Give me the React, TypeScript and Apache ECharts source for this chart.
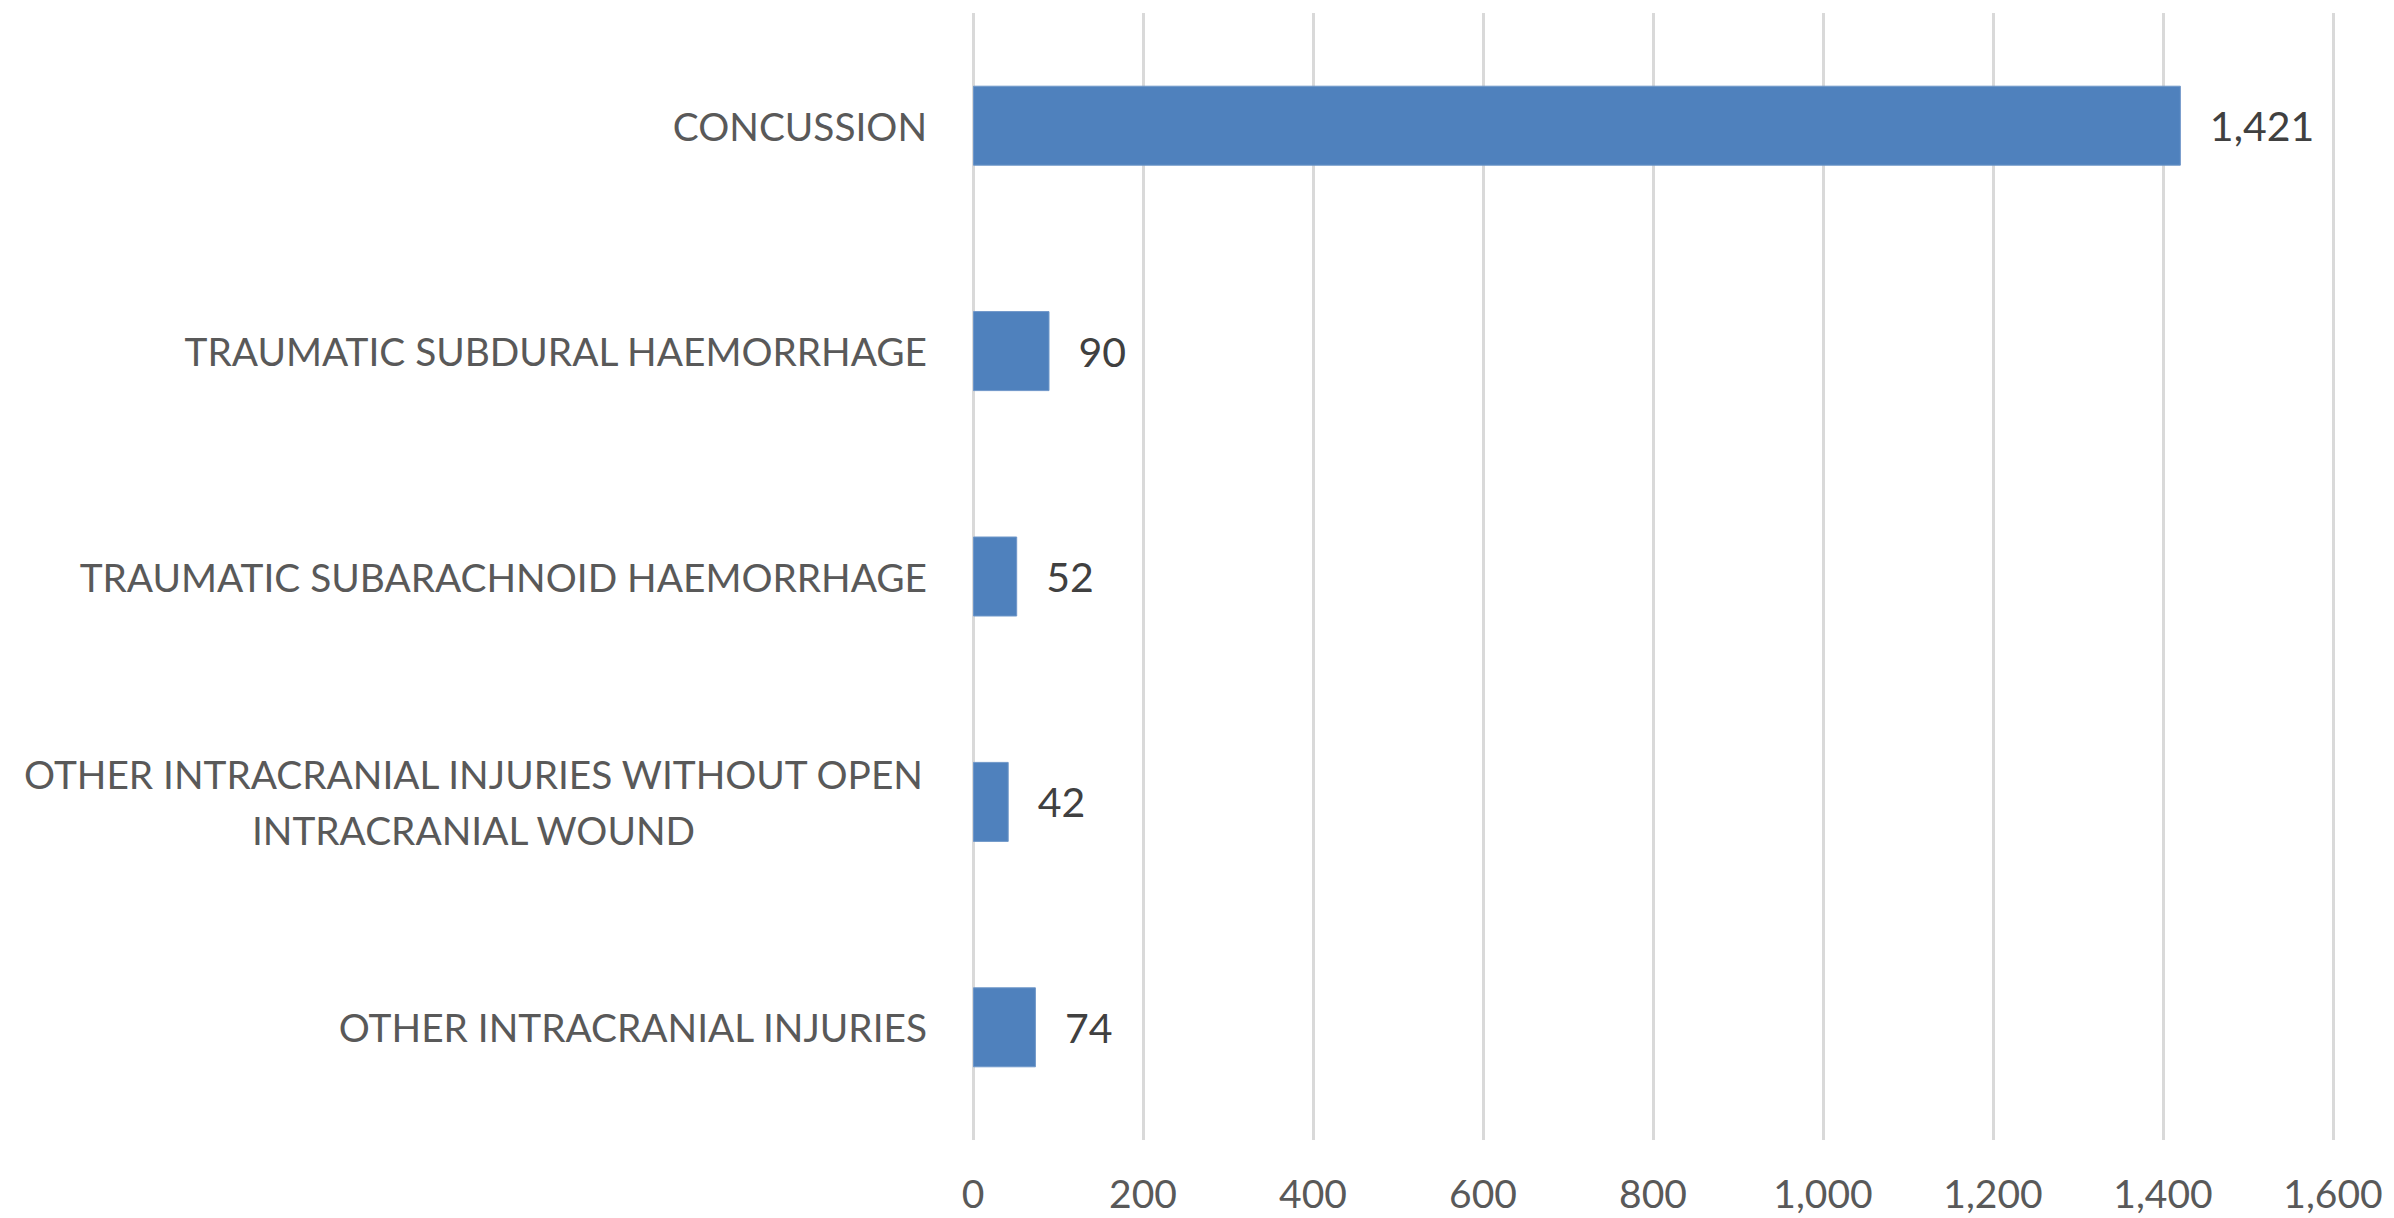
import React, { useEffect, useRef } from "react";
import * as echarts from "echarts";

const categories = [
  "CONCUSSION",
  "TRAUMATIC SUBDURAL HAEMORRHAGE",
  "TRAUMATIC SUBARACHNOID HAEMORRHAGE",
  "OTHER INTRACRANIAL INJURIES WITHOUT OPEN\nINTRACRANIAL WOUND",
  "OTHER INTRACRANIAL INJURIES",
];
const values = [1421, 90, 52, 42, 74];
const xMin = 0;
const xMax = 1600;
const xStep = 200;

const FONT = "Lato";
const CAT_FS = 38.8;

export default function App() {
  const ref = useRef<HTMLDivElement>(null);
  useEffect(() => {
    if (!ref.current) return;
    const chart = echarts.init(ref.current, null, { renderer: "svg" });
    chart.setOption({
      animation: false,
      backgroundColor: "#ffffff",
      grid: { left: 973, right: 61, top: 13, bottom: 78, containLabel: false },
      xAxis: {
        type: "value",
        min: xMin,
        max: xMax,
        interval: xStep,
        axisLine: { show: false },
        axisTick: { show: false },
        splitLine: { show: true, lineStyle: { color: "#d9d9d9", width: 3 } },
        axisLabel: {
          margin: 35,
          fontSize: 39,
          lineHeight: 36,
          fontFamily: FONT,
          color: "#595959",
          formatter: (v: number) => v.toLocaleString("en-US"),
        },
      },
      yAxis: {
        type: "category",
        inverse: true,
        data: categories,
        axisLine: { show: false },
        axisTick: { show: false },
        axisLabel: {
          margin: 46,
          fontSize: CAT_FS,
          fontFamily: FONT,
          color: "#595959",
          lineHeight: 56,
          formatter: (v: string) => {
            if (v.indexOf("\n") >= 0) {
              return v
                .split("\n")
                .map((s) => "{c|" + s + "}")
                .join("\n");
            }
            return v;
          },
          rich: {
            c: {
              width: 907,
              align: "center",
              fontSize: CAT_FS,
              fontFamily: FONT,
              color: "#595959",
              lineHeight: 56,
            },
          },
        },
      },
      series: [
        {
          type: "bar",
          data: values,
          barWidth: 80,
          itemStyle: { color: "#4f81bd", borderColor: "#6f97c9", borderWidth: 1 },
          label: {
            show: true,
            position: "right",
            distance: 29,
            fontSize: 41,
            fontFamily: FONT,
            color: "#404040",
            formatter: (p: any) => Number(p.value).toLocaleString("en-US"),
          },
        },
      ],
    });
    return () => chart.dispose();
  }, []);
  return (
    <div
      ref={ref}
      style={{ position: "absolute", left: 0, top: 0, width: 2394, height: 1218 }}
    />
  );
}
